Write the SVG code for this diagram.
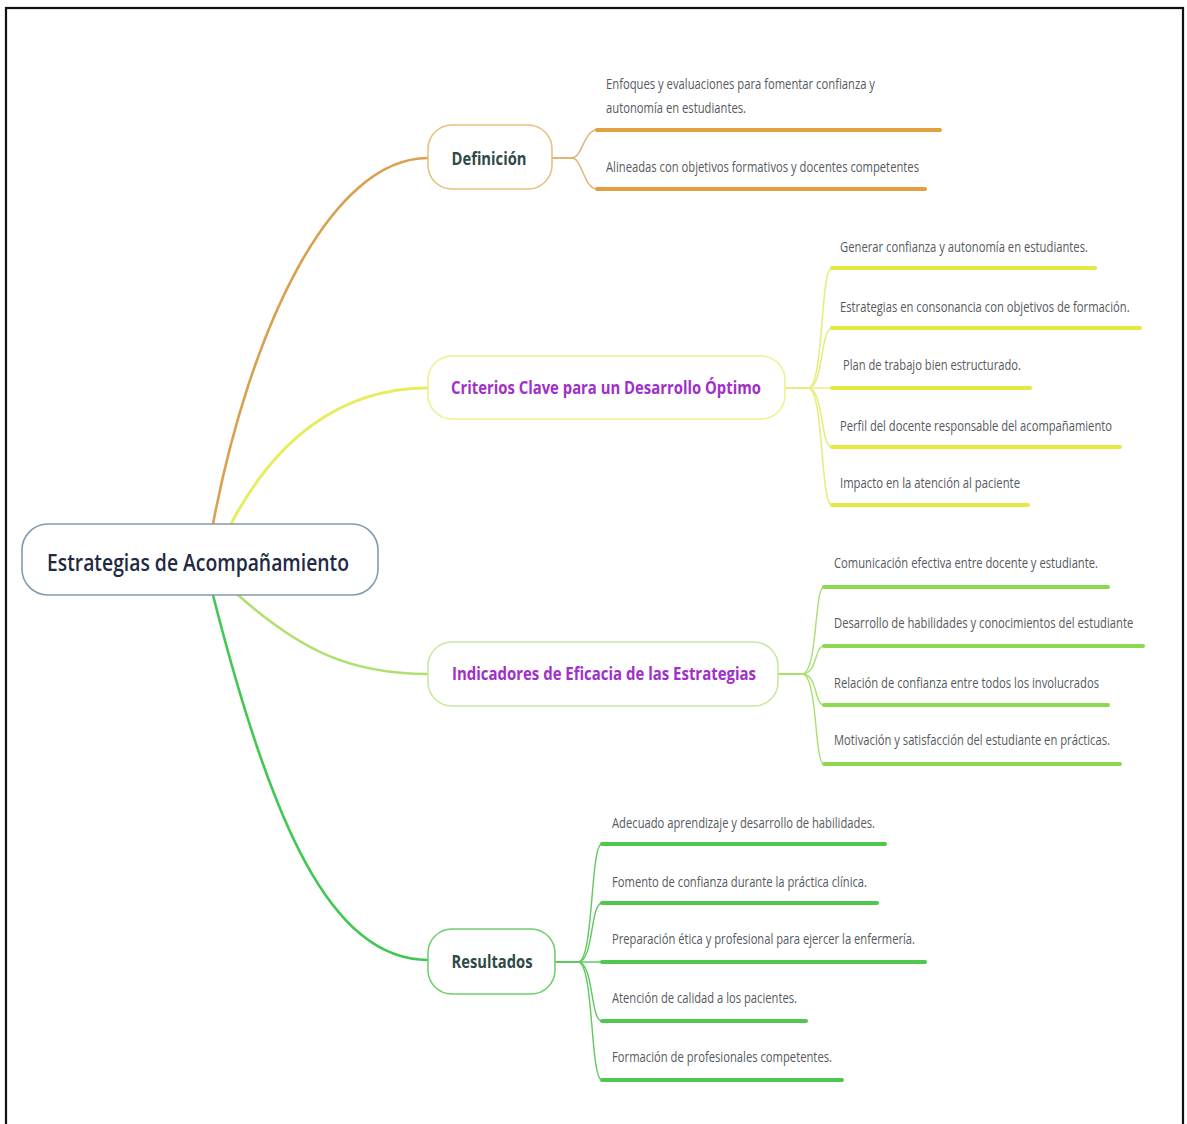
<svg xmlns="http://www.w3.org/2000/svg" width="1187" height="1124" viewBox="0 0 1187 1124">
<style>
.bg{fill:#ffffff}
.frame{fill:none;stroke:#111;stroke-width:2.2}
.conn{fill:none;stroke-linecap:round}
.node{fill:#ffffff;stroke-width:1.6}
.title{font-family:"Open Sans","Liberation Sans",sans-serif;font-weight:700;font-size:18px;text-anchor:middle}
.root{font-family:"Open Sans","Liberation Sans",sans-serif;font-weight:600;font-size:24px;fill:#1f2a44;text-anchor:middle}
.leaf{font-family:"Open Sans","Liberation Sans",sans-serif;font-size:14px;fill:#555a60}
.ul{stroke-width:4;stroke-linecap:round}
</style>
<rect class="bg" x="0" y="0" width="1187" height="1124"/>
<rect class="frame" x="6" y="8" width="1177" height="1140"/>

<g id="connectors">
  <path class="conn" d="M213,524 C250,330 330,158 428,158" stroke="#d9a050" stroke-width="2.6"/>
  <path class="conn" d="M231,524 C275,440 340,388 428,388" stroke="#e8ec60" stroke-width="3"/>
  <path class="conn" d="M238,595 C300,650 350,674 428,674" stroke="#b0e070" stroke-width="2.6"/>
  <path class="conn" d="M213,595 C270,820 330,960 428,960" stroke="#40c850" stroke-width="2.6"/>
  <g stroke="#e0b070" stroke-width="1.4" fill="none">
    <path d="M552,158 L572,158 C582,158 584,130 597,130"/>
    <path d="M552,158 L572,158 C582,158 584,189 597,189"/>
  </g>
  <g stroke="#e8ec80" stroke-width="1.6" fill="none">
    <path d="M785,388 L808,388 C824,388 820,268 832,268"/>
    <path d="M785,388 L808,388 C824,388 820,328 832,328"/>
    <path d="M785,388 L832,388"/>
    <path d="M785,388 L808,388 C824,388 820,447 832,447"/>
    <path d="M785,388 L808,388 C824,388 820,505 832,505"/>
  </g>
  <g stroke="#a8e070" stroke-width="1.4" fill="none">
    <path d="M778,674 L802,674 C818,674 814,587 824,587"/>
    <path d="M778,674 L802,674 C818,674 814,646 824,646"/>
    <path d="M778,674 L802,674 C818,674 814,705 824,705"/>
    <path d="M778,674 L802,674 C818,674 814,764 824,764"/>
  </g>
  <g stroke="#60c860" stroke-width="1.4" fill="none">
    <path d="M555,962 L578,962 C594,962 590,844 602,844"/>
    <path d="M555,962 L578,962 C594,962 590,903 602,903"/>
    <path d="M555,962 L602,962"/>
    <path d="M555,962 L578,962 C594,962 590,1021 602,1021"/>
    <path d="M555,962 L578,962 C594,962 590,1080 602,1080"/>
  </g>
</g>

<g id="root">
  <rect class="node" x="22" y="524" width="356" height="71" rx="26" stroke="#7f9cae"/>
  <text class="root" x="198" y="571" textLength="302" lengthAdjust="spacingAndGlyphs">Estrategias de Acompañamiento</text>
</g>

<g id="definicion">
  <rect class="node" x="428" y="125" width="124" height="64" rx="24" stroke="#e8c080"/>
  <text class="title" x="489" y="165" fill="#2f4a48" textLength="75" lengthAdjust="spacingAndGlyphs">Definición</text>
</g>
<g id="def-1">
  <text class="leaf" x="606" y="89" textLength="269" lengthAdjust="spacingAndGlyphs">Enfoques y evaluaciones para fomentar confianza y</text>
  <text class="leaf" x="606" y="113" textLength="140" lengthAdjust="spacingAndGlyphs">autonomía en estudiantes.</text>
  <line class="ul" x1="597" y1="130" x2="940" y2="130" stroke="#e0a040"/>
</g>
<g id="def-2">
  <text class="leaf" x="606" y="172" textLength="313" lengthAdjust="spacingAndGlyphs">Alineadas con objetivos formativos y docentes competentes</text>
  <line class="ul" x1="597" y1="189" x2="925" y2="189" stroke="#e0a040"/>
</g>

<g id="criterios">
  <rect class="node" x="428" y="356" width="357" height="63" rx="24" stroke="#f0f090"/>
  <text class="title" x="606" y="394" fill="#a030c8" textLength="310" lengthAdjust="spacingAndGlyphs">Criterios Clave para un Desarrollo Óptimo</text>
</g>
<g id="crit-1">
  <text class="leaf" x="840" y="252" textLength="248" lengthAdjust="spacingAndGlyphs">Generar confianza y autonomía en estudiantes.</text>
  <line class="ul" x1="832" y1="268" x2="1095" y2="268" stroke="#e6e840"/>
</g>
<g id="crit-2">
  <text class="leaf" transform="translate(840,312) scale(0.8,1)" x="0" y="0" textLength="362" lengthAdjust="spacingAndGlyphs">Estrategias en consonancia con objetivos de formación.</text>
  <line class="ul" x1="832" y1="328" x2="1140" y2="328" stroke="#e6e840"/>
</g>
<g id="crit-3">
  <text class="leaf" x="843" y="370" textLength="178" lengthAdjust="spacingAndGlyphs">Plan de trabajo bien estructurado.</text>
  <line class="ul" x1="832" y1="388" x2="1030" y2="388" stroke="#e6e840"/>
</g>
<g id="crit-4">
  <text class="leaf" x="840" y="431" textLength="272" lengthAdjust="spacingAndGlyphs">Perfil del docente responsable del acompañamiento</text>
  <line class="ul" x1="832" y1="447" x2="1120" y2="447" stroke="#e6e840"/>
</g>
<g id="crit-5">
  <text class="leaf" x="840" y="488" textLength="180" lengthAdjust="spacingAndGlyphs">Impacto en la atención al paciente</text>
  <line class="ul" x1="832" y1="505" x2="1028" y2="505" stroke="#e6e840"/>
</g>

<g id="indicadores">
  <rect class="node" x="428" y="642" width="350" height="64" rx="24" stroke="#c8e8a0"/>
  <text class="title" x="604" y="680" fill="#a030c8" textLength="304" lengthAdjust="spacingAndGlyphs">Indicadores de Eficacia de las Estrategias</text>
</g>
<g id="ind-1">
  <text class="leaf" x="834" y="568" textLength="264" lengthAdjust="spacingAndGlyphs">Comunicación efectiva entre docente y estudiante.</text>
  <line class="ul" x1="824" y1="587" x2="1108" y2="587" stroke="#8ed850"/>
</g>
<g id="ind-2">
  <text class="leaf" transform="translate(834,628) scale(0.8,1)" x="0" y="0" textLength="374" lengthAdjust="spacingAndGlyphs">Desarrollo de habilidades y conocimientos del estudiante</text>
  <line class="ul" x1="824" y1="646" x2="1143" y2="646" stroke="#8ed850"/>
</g>
<g id="ind-3">
  <text class="leaf" x="834" y="688" textLength="265" lengthAdjust="spacingAndGlyphs">Relación de confianza entre todos los involucrados</text>
  <line class="ul" x1="824" y1="705" x2="1108" y2="705" stroke="#8ed850"/>
</g>
<g id="ind-4">
  <text class="leaf" x="834" y="745" textLength="276" lengthAdjust="spacingAndGlyphs">Motivación y satisfacción del estudiante en prácticas.</text>
  <line class="ul" x1="824" y1="764" x2="1120" y2="764" stroke="#8ed850"/>
</g>

<g id="resultados">
  <rect class="node" x="428" y="929" width="127" height="65" rx="24" stroke="#70d070"/>
  <text class="title" x="492" y="968" fill="#2f4a48" textLength="81" lengthAdjust="spacingAndGlyphs">Resultados</text>
</g>
<g id="res-1">
  <text class="leaf" x="612" y="828" textLength="263" lengthAdjust="spacingAndGlyphs">Adecuado aprendizaje y desarrollo de habilidades.</text>
  <line class="ul" x1="602" y1="844" x2="885" y2="844" stroke="#50c850"/>
</g>
<g id="res-2">
  <text class="leaf" x="612" y="887" textLength="255" lengthAdjust="spacingAndGlyphs">Fomento de confianza durante la práctica clínica.</text>
  <line class="ul" x1="602" y1="903" x2="877" y2="903" stroke="#50c850"/>
</g>
<g id="res-3">
  <text class="leaf" x="612" y="944" textLength="303" lengthAdjust="spacingAndGlyphs">Preparación ética y profesional para ejercer la enfermería.</text>
  <line class="ul" x1="602" y1="962" x2="925" y2="962" stroke="#50c850"/>
</g>
<g id="res-4">
  <text class="leaf" x="612" y="1003" textLength="185" lengthAdjust="spacingAndGlyphs">Atención de calidad a los pacientes.</text>
  <line class="ul" x1="602" y1="1021" x2="806" y2="1021" stroke="#50c850"/>
</g>
<g id="res-5">
  <text class="leaf" x="612" y="1062" textLength="220" lengthAdjust="spacingAndGlyphs">Formación de profesionales competentes.</text>
  <line class="ul" x1="602" y1="1080" x2="842" y2="1080" stroke="#50c850"/>
</g>
</svg>
